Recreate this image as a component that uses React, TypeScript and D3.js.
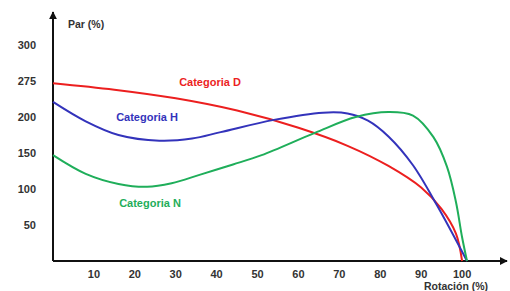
import React, { useEffect, useRef } from "react";
import * as d3 from "d3";

// rotation (%) / par (%)
const rotD = [0, 15, 30, 45, 60, 72, 82, 90, 95, 98.5, 100];
const parD = [247, 238, 226, 209, 185, 160, 132, 102, 72, 38, 0];

const rotH = [0, 8, 16, 26, 34, 41, 54, 66, 72, 77, 82, 88, 94, 101.2];
const parH = [221, 194, 175, 167, 170, 179, 196, 206, 205, 195, 173, 133, 76, 0];

const rotN = [0, 8, 16, 23, 29, 36, 44, 51, 64, 74, 82, 88, 93, 96.3, 98.5, 100, 101.2];
const parN = [147, 121, 107, 103, 108, 120, 134, 147, 178, 200, 207, 202, 172, 131, 82, 33, 0];

const yTickValues = [300, 250, 200, 150, 100, 50];
const yTickLabels = ["300", "275", "200", "150", "100", "50"];
const xTickValues = [10, 20, 30, 40, 50, 60, 70, 80, 90, 100];

const SERIES = [
	{ name: "Categoria D", rot: rotD, par: parD, color: "#ec1f1f", lx: 210, ly: 82 },
	{ name: "Categoria H", rot: rotH, par: parH, color: "#3333bb", lx: 147, ly: 117 },
	{ name: "Categoria N", rot: rotN, par: parN, color: "#1fae5a", lx: 150, ly: 203 },
];

export default function App() {
	const ref = useRef<SVGSVGElement>(null);

	useEffect(() => {
		if (!ref.current) return;
		const svg = d3.select(ref.current);
		svg.selectAll("*").remove();

		const x = d3.scaleLinear().domain([0, 110]).range([53, 503]);
		const y = d3.scaleLinear().domain([0, 300]).range([261, 45]);
		const font = "'Liberation Sans', Arial, sans-serif";

		const defs = svg.append("defs");
		defs.append("marker")
			.attr("id", "arrow")
			.attr("viewBox", "0 0 10 10")
			.attr("refX", 9)
			.attr("refY", 5)
			.attr("markerWidth", 4)
			.attr("markerHeight", 4)
			.attr("orient", "auto")
			.append("path")
			.attr("d", "M0,0L10,5L0,10Z")
			.attr("fill", "#111");

		// axes
		svg.append("line")
			.attr("x1", x(0)).attr("y1", y(0))
			.attr("x2", x(0)).attr("y2", 12)
			.attr("stroke", "#111").attr("stroke-width", 2)
			.attr("marker-end", "url(#arrow)");
		svg.append("line")
			.attr("x1", x(0)).attr("y1", y(0))
			.attr("x2", 507).attr("y2", y(0))
			.attr("stroke", "#111").attr("stroke-width", 2)
			.attr("marker-end", "url(#arrow)");

		svg.selectAll("text.ytick")
			.data(yTickValues)
			.enter()
			.append("text")
			.classed("ytick", true)
			.attr("x", 36)
			.attr("y", (d) => y(d))
			.attr("dy", "0.35em")
			.attr("text-anchor", "end")
			.attr("font-family", font)
			.attr("font-weight", "bold")
			.attr("font-size", 11)
			.attr("fill", "#333")
			.text((d, i) => yTickLabels[i]);

		svg.selectAll("text.xtick")
			.data(xTickValues)
			.enter()
			.append("text")
			.classed("xtick", true)
			.attr("x", (d) => x(d))
			.attr("y", 274)
			.attr("dy", "0.35em")
			.attr("text-anchor", "middle")
			.attr("font-family", font)
			.attr("font-weight", "bold")
			.attr("font-size", 11)
			.attr("fill", "#333")
			.text((d) => d);

		svg.append("text")
			.attr("x", 68).attr("y", 24).attr("dy", "0.35em")
			.attr("font-family", font).attr("font-weight", "bold")
			.attr("font-size", 10.5).attr("fill", "#333")
			.text("Par (%)");
		svg.append("text")
			.attr("x", 456).attr("y", 286).attr("dy", "0.35em")
			.attr("text-anchor", "middle")
			.attr("font-family", font).attr("font-weight", "bold")
			.attr("font-size", 10.5).attr("fill", "#333")
			.text("Rotación (%)");

		const line = d3.line<[number, number]>()
			.x((d) => x(d[0]))
			.y((d) => y(d[1]))
			.curve(d3.curveCatmullRom.alpha(0.5));

		SERIES.forEach((s) => {
			const pts = s.rot.map((r, i) => [r, s.par[i]] as [number, number]);
			svg.append("path")
				.attr("d", line(pts))
				.attr("fill", "none")
				.attr("stroke", s.color)
				.attr("stroke-width", 2);
			svg.append("text")
				.attr("x", s.lx).attr("y", s.ly).attr("dy", "0.35em")
				.attr("text-anchor", "middle")
				.attr("font-family", font).attr("font-weight", "bold")
				.attr("font-size", 11).attr("fill", s.color)
				.text(s.name);
		});
	}, []);

	return (
		<svg
			ref={ref}
			width={510}
			height={291}
			style={{ position: "absolute", left: 0, top: 0, background: "#fff" }}
		/>
	);
}
